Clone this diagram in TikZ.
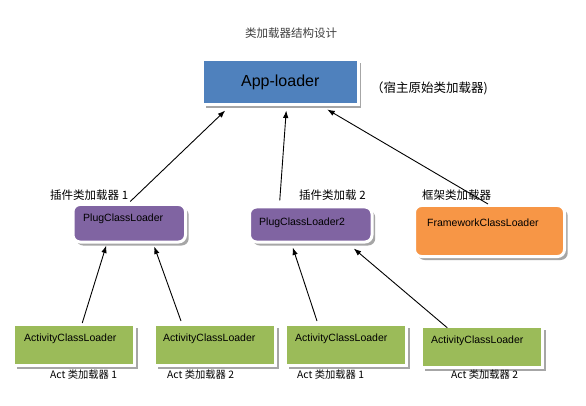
\documentclass[tikz,border=0pt]{standalone}
\usepackage{fontspec}
\setmainfont{Liberation Sans}
\newfontfamily\cjk{Noto Sans CJK SC}
\usetikzlibrary{arrows.meta,shadows}
\definecolor{appblue}{HTML}{4F81BD}
\definecolor{plugpurple}{HTML}{8064A2}
\definecolor{frameorange}{HTML}{F79646}
\definecolor{actgreen}{HTML}{9BBB59}
\definecolor{titlegray}{HTML}{404040}
\definecolor{shadowgray}{HTML}{A6A6A6}
\begin{document}
\begin{tikzpicture}[x=1pt,y=-1pt,
  box/.style={draw=white, line width=3pt, inner sep=0pt,
    drop shadow={shadow xshift=3.2pt,shadow yshift=-3.5pt,fill=shadowgray,opacity=1}},
  rbox/.style={box, rounded corners=7pt},
  actbox/.style={box, fill=actgreen, minimum width=121pt, minimum height=41pt},
  boxtext/.style={font=\fontsize{10.5}{12}\selectfont, anchor=west, inner sep=0pt},
  cjklabel/.style={font=\cjk\fontsize{11.5}{13}\selectfont, anchor=west, inner sep=0pt},
  actlabel/.style={font=\cjk\fontsize{10.3}{12}\selectfont, anchor=west, inner sep=0pt},
  arr/.style={-{Latex[length=7.5pt,width=5.5pt]}, line width=0.9pt, black}]
\useasboundingbox (0,0) rectangle (586,406);
\fill[white] (0,0) rectangle (586,406);

% title
\node[font=\cjk\fontsize{11.5}{13}\selectfont, text=titlegray, inner sep=0pt] (title) at (291,33) {类加载器结构设计};

% app loader
\node[box, fill=appblue, minimum width=155.5pt, minimum height=45.5pt,
      font=\fontsize{16}{18}\selectfont] (app) at (280.25,82.25) {App-loader};
\node[font=\cjk\fontsize{12.5}{14}\selectfont, anchor=west, inner sep=0pt] (hostlbl) at (371,88) {（宿主原始类加载器)};

% plugin loaders
\node[rbox, fill=plugpurple, minimum width=112.5pt, minimum height=37.5pt] (plug1) at (129.25,223.25) {};
\node[boxtext] (plug1t) at (83,219) {PlugClassLoader};
\node[cjklabel] (plug1l) at (50,195) {插件类加载器 1};

\node[rbox, fill=plugpurple, minimum width=122.5pt, minimum height=35pt] (plug2) at (310.75,224.5) {};
\node[boxtext] (plug2t) at (259,223) {PlugClassLoader2};
\node[cjklabel] (plug2l) at (299,195) {插件类加载 2};

\node[rbox, fill=frameorange, minimum width=150pt, minimum height=51pt] (frame) at (489.5,231) {};
\node[boxtext] (framet) at (427,223) {FrameworkClassLoader};
\node[cjklabel] (framel) at (422,195) {框架类加载器};

% activity loaders
\node[actbox] (act1) at (74.25,345) {};
\node[boxtext] (act1t) at (24,339) {ActivityClassLoader};
\node[actlabel] (act1l) at (50,375) {Act 类加载器 1};

\node[actbox] (act2) at (215,345) {};
\node[boxtext] (act2t) at (163,339) {ActivityClassLoader};
\node[actlabel] (act2l) at (167,375) {Act 类加载器 2};

\node[actbox] (act3) at (346,345) {};
\node[boxtext] (act3t) at (295,339) {ActivityClassLoader};
\node[actlabel] (act3l) at (297,375) {Act 类加载器 1};

\node[actbox] (act4) at (482.25,346.75) {};
\node[boxtext] (act4t) at (431,341) {ActivityClassLoader};
\node[actlabel] (act4l) at (451,375) {Act 类加载器 2};

% connectors
\draw[arr] ([xshift=1pt,yshift=1.5pt]plug1.north) -- ([xshift=-55pt,yshift=-4pt]app.south);
\draw[arr] ([xshift=-31pt,yshift=5pt]plug2.north) -- ([xshift=6pt,yshift=-4pt]app.south);
\draw[arr] ([xshift=-1.5pt]frame.north) -- ([xshift=47pt,yshift=-3pt]app.south);
\draw[arr] ([xshift=8pt]act1.north) -- ([xshift=-23pt,yshift=-2pt]plug1.south);
\draw[arr] ([xshift=-34pt,yshift=2pt]act2.north) -- ([xshift=25pt,yshift=-3pt]plug1.south);
\draw[arr] ([xshift=-29pt,yshift=2pt]act3.north) -- ([xshift=-18pt,yshift=-4pt]plug2.south);
\draw[arr] ([xshift=-35pt,yshift=-3pt]act4.north) -- ([xshift=43pt,yshift=-5pt]plug2.south);
\end{tikzpicture}
\end{document}
